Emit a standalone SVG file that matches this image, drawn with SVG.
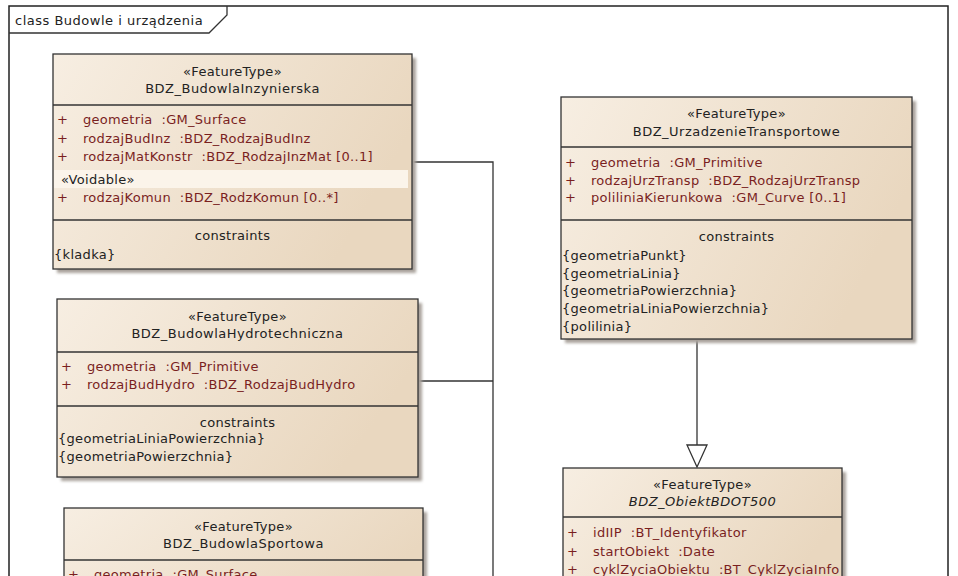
<svg xmlns="http://www.w3.org/2000/svg" width="958" height="576" viewBox="0 0 958 576">
<defs>
<linearGradient id="fillG" x1="0" y1="0" x2="1" y2="0.35">
<stop offset="0" stop-color="#f7eee2"/>
<stop offset="1" stop-color="#e9d7bf"/>
</linearGradient>
<filter id="blur" x="-5%" y="-5%" width="110%" height="110%">
<feGaussianBlur stdDeviation="1.5"/>
</filter>
<style>
.frame{fill:#fff;stroke:#222;stroke-width:1.5}
.shadow{fill:#a9a29b;filter:url(#blur)}
.box{fill:url(#fillG);stroke:#333;stroke-width:1.3}
.sep{stroke:#333;stroke-width:1.3;fill:none}
.conn{stroke:#333;stroke-width:1.3;fill:none}
.head{fill:#fff;stroke:#333;stroke-width:1.3}
text{font-family:"DejaVu Sans","Liberation Sans",sans-serif;font-size:13px;white-space:pre;letter-spacing:0.3px}
.st,.nm,.ch{fill:#222;text-anchor:middle}
.nm{letter-spacing:0.5px}
.it{font-style:italic}
.at{fill:#7a1f1f}
.ct{fill:#222}
.title{fill:#222}
.void{fill:#fbf4ea}
</style>
</defs>
<rect width="958" height="576" fill="#fff"/>
<g id="frame">
<rect class="frame" x="9" y="6" width="939" height="600"/>
<path class="sep" d="M9,33 H209 L227,15 V6"/>
<text class="title" x="15" y="25" textLength="188" lengthAdjust="spacing">class Budowle i urządzenia</text>
</g>
<g id="connectors">
<polyline class="conn" points="412,162 493,162 493,580"/>
<line class="conn" x1="418" y1="381" x2="493" y2="381"/>
<line class="conn" x1="697" y1="339" x2="697" y2="445"/>
<polygon class="head" points="687,445 707,445 697,467"/>
</g>
<g id="BDZ_BudowlaInzynierska">
<rect class="shadow" x="57" y="58" width="359" height="215"/>
<rect class="box" x="53" y="54" width="359" height="215"/>
<text class="st" x="232.5" y="76">«FeatureType»</text>
<text class="nm" x="232.5" y="93">BDZ_BudowlaInzynierska</text>
<line class="sep" x1="53" y1="105" x2="412" y2="105"/>
<text class="at" x="57" y="124">+</text><text class="at" x="83" y="124">geometria  :GM_Surface</text>
<text class="at" x="57" y="142.5">+</text><text class="at" x="83" y="142.5">rodzajBudInz  :BDZ_RodzajBudInz</text>
<text class="at" x="57" y="161">+</text><text class="at" x="83" y="161">rodzajMatKonstr  :BDZ_RodzajInzMat [0..1]</text>
<rect class="void" x="54" y="170" width="354" height="18"/>
<text class="ct" x="61" y="184">«Voidable»</text>
<text class="at" x="57" y="202">+</text><text class="at" x="83" y="202">rodzajKomun  :BDZ_RodzKomun [0..*]</text>
<line class="sep" x1="53" y1="220" x2="412" y2="220"/>
<text class="ch" x="232.5" y="240">constraints</text>
<text class="ct" x="54" y="259">{kladka}</text>
</g>
<g id="BDZ_BudowlaHydrotechniczna">
<rect class="shadow" x="61" y="303" width="361" height="178"/>
<rect class="box" x="57" y="299" width="361" height="178"/>
<text class="st" x="237.5" y="321">«FeatureType»</text>
<text class="nm" x="237.5" y="338">BDZ_BudowlaHydrotechniczna</text>
<line class="sep" x1="57" y1="352" x2="418" y2="352"/>
<text class="at" x="61" y="371">+</text><text class="at" x="87" y="371">geometria  :GM_Primitive</text>
<text class="at" x="61" y="389">+</text><text class="at" x="87" y="389">rodzajBudHydro  :BDZ_RodzajBudHydro</text>
<line class="sep" x1="57" y1="406" x2="418" y2="406"/>
<text class="ch" x="237.5" y="427">constraints</text>
<text class="ct" x="58" y="443">{geometriaLiniaPowierzchnia}</text>
<text class="ct" x="58" y="461">{geometriaPowierzchnia}</text>
</g>
<g id="BDZ_BudowlaSportowa">
<rect class="shadow" x="68" y="512" width="359" height="100"/>
<rect class="box" x="64" y="508" width="359" height="100"/>
<text class="st" x="243.5" y="531">«FeatureType»</text>
<text class="nm" x="243.5" y="548">BDZ_BudowlaSportowa</text>
<line class="sep" x1="64" y1="560" x2="423" y2="560"/>
<text class="at" x="68" y="579">+</text><text class="at" x="94" y="579">geometria  :GM_Surface</text>
</g>
<g id="BDZ_UrzadzenieTransportowe">
<rect class="shadow" x="565" y="101" width="351" height="242"/>
<rect class="box" x="561" y="97" width="351" height="242"/>
<text class="st" x="736.5" y="118">«FeatureType»</text>
<text class="nm" x="736.5" y="136">BDZ_UrzadzenieTransportowe</text>
<line class="sep" x1="561" y1="147" x2="912" y2="147"/>
<text class="at" x="565" y="167">+</text><text class="at" x="591" y="167">geometria  :GM_Primitive</text>
<text class="at" x="565" y="184.5">+</text><text class="at" x="591" y="184.5">rodzajUrzTransp  :BDZ_RodzajUrzTransp</text>
<text class="at" x="565" y="202">+</text><text class="at" x="591" y="202">poliliniaKierunkowa  :GM_Curve [0..1]</text>
<line class="sep" x1="561" y1="220" x2="912" y2="220"/>
<text class="ch" x="736.5" y="241">constraints</text>
<text class="ct" x="562" y="260">{geometriaPunkt}</text>
<text class="ct" x="562" y="277.5">{geometriaLinia}</text>
<text class="ct" x="562" y="295">{geometriaPowierzchnia}</text>
<text class="ct" x="562" y="312.5">{geometriaLiniaPowierzchnia}</text>
<text class="ct" x="562" y="331">{polilinia}</text>
</g>
<g id="BDZ_ObiektBDOT500">
<rect class="shadow" x="567" y="472" width="279" height="130"/>
<rect class="box" x="563" y="468" width="279" height="130"/>
<text class="st" x="702.5" y="489">«FeatureType»</text>
<text class="nm it" x="702.5" y="506">BDZ_ObiektBDOT500</text>
<line class="sep" x1="563" y1="517" x2="842" y2="517"/>
<text class="at" x="567" y="537">+</text><text class="at" x="593" y="537">idIIP  :BT_Identyfikator</text>
<text class="at" x="567" y="555.5">+</text><text class="at" x="593" y="555.5">startObiekt  :Date</text>
<text class="at" x="567" y="574">+</text><text class="at" x="593" y="574">cyklZyciaObiektu  :BT_CyklZyciaInfo</text>
</g>
</svg>
